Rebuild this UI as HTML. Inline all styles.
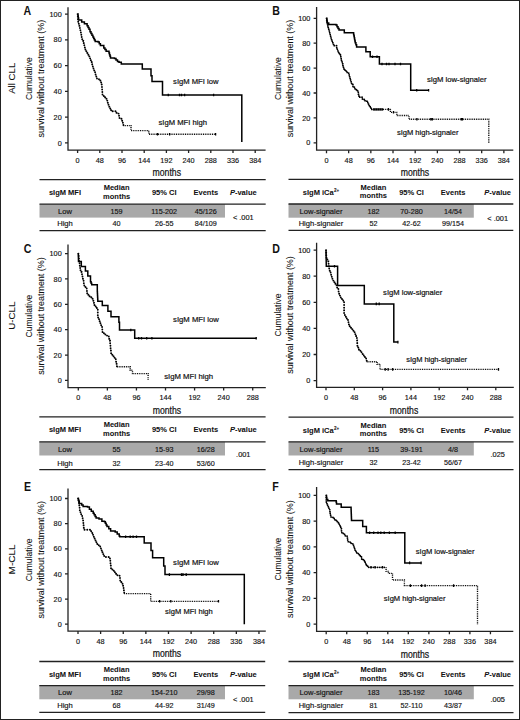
<!DOCTYPE html>
<html><head><meta charset="utf-8"><title>Kaplan-Meier curves</title><style>
html,body{margin:0;padding:0;background:#fff;}
body{width:520px;height:720px;overflow:hidden;position:relative;}
#frame{position:absolute;left:0;top:0;width:518px;height:718px;border:1px solid #222;}
svg{position:absolute;left:0;top:0;}
text{font-family:"Liberation Sans", sans-serif;fill:#111;}
.ax{fill:none;stroke:#222;stroke-width:1.3;}
.tl{fill:none;stroke:#222;stroke-width:1.3;}
.tk{font-size:7.4px;stroke:#111;stroke-width:0.15px;}
.mo{font-size:10px;stroke:#111;stroke-width:0.2px;}
.pl{font-size:12.2px;font-weight:bold;}
.yt{font-size:9.7px;stroke:#111;stroke-width:0.08px;}
.rl{font-size:9.6px;stroke:#111;stroke-width:0.08px;}
.cl{font-size:7.6px;stroke:#111;stroke-width:0.2px;}
.th{font-size:7.5px;font-weight:bold;stroke:#111;stroke-width:0.05px;}
.td{font-size:7.2px;stroke:#111;stroke-width:0.15px;}
.cs{fill:none;stroke:#000;stroke-width:1.5;}
.cdb{fill:none;stroke:#000;stroke-width:1.9;stroke-dasharray:0.1 2.6;stroke-linecap:round;}
.cd{fill:none;stroke:#000;stroke-width:1.35;stroke-dasharray:0.95 0.85;}
.cdb2{fill:none;stroke:#000;stroke-width:1.8;stroke-dasharray:0.1 2.1;stroke-linecap:round;}
.cz{fill:none;stroke:#000;stroke-width:1.3;}
</style></head>
<body><div id="frame"></div>
<svg width="520" height="720" viewBox="0 0 520 720">
<path d="M68 7.2V150.1H265.6" class="ax"/>
<text x="61.7" y="145.5" class="tk" text-anchor="end" textLength="4.05" lengthAdjust="spacingAndGlyphs">0</text>
<text x="61.7" y="119.74" class="tk" text-anchor="end" textLength="8.1" lengthAdjust="spacingAndGlyphs">20</text>
<text x="61.7" y="93.98" class="tk" text-anchor="end" textLength="8.1" lengthAdjust="spacingAndGlyphs">40</text>
<text x="61.7" y="68.22" class="tk" text-anchor="end" textLength="8.1" lengthAdjust="spacingAndGlyphs">60</text>
<text x="61.7" y="42.46" class="tk" text-anchor="end" textLength="8.1" lengthAdjust="spacingAndGlyphs">80</text>
<text x="61.7" y="16.7" class="tk" text-anchor="end" textLength="12.15" lengthAdjust="spacingAndGlyphs">100</text>
<text x="77.6" y="162.6" class="tk" text-anchor="middle" textLength="4.05" lengthAdjust="spacingAndGlyphs">0</text>
<text x="99.8" y="162.6" class="tk" text-anchor="middle" textLength="8.1" lengthAdjust="spacingAndGlyphs">48</text>
<text x="122" y="162.6" class="tk" text-anchor="middle" textLength="8.1" lengthAdjust="spacingAndGlyphs">96</text>
<text x="144.2" y="162.6" class="tk" text-anchor="middle" textLength="12.15" lengthAdjust="spacingAndGlyphs">144</text>
<text x="166.4" y="162.6" class="tk" text-anchor="middle" textLength="12.15" lengthAdjust="spacingAndGlyphs">192</text>
<text x="188.6" y="162.6" class="tk" text-anchor="middle" textLength="12.15" lengthAdjust="spacingAndGlyphs">240</text>
<text x="210.8" y="162.6" class="tk" text-anchor="middle" textLength="12.15" lengthAdjust="spacingAndGlyphs">288</text>
<text x="233" y="162.6" class="tk" text-anchor="middle" textLength="12.15" lengthAdjust="spacingAndGlyphs">336</text>
<text x="255.2" y="162.6" class="tk" text-anchor="middle" textLength="12.15" lengthAdjust="spacingAndGlyphs">384</text>
<path d="M65 142.9H68M65 117.14H68M65 91.38H68M65 65.62H68M65 39.86H68M65 14.1H68M77.6 150.1v3M99.8 150.1v3M122 150.1v3M144.2 150.1v3M166.4 150.1v3M188.6 150.1v3M210.8 150.1v3M233 150.1v3M255.2 150.1v3" class="ax"/>
<text x="166.8" y="176.3" class="mo" text-anchor="middle" textLength="28.5" lengthAdjust="spacingAndGlyphs">months</text>
<text transform="translate(23.6 15.4) scale(0.87 1)" class="pl">A</text>
<text transform="translate(31.9 78.65) rotate(-90)" class="yt" text-anchor="middle" textLength="42.8" lengthAdjust="spacingAndGlyphs">Cumulative</text>
<text transform="translate(44.3 78.65) rotate(-90)" class="yt" text-anchor="middle" textLength="117.5" lengthAdjust="spacingAndGlyphs">survival without treatment (%)</text>
<text transform="translate(15.4 78.25) rotate(-90)" class="rl" text-anchor="middle" textLength="31.2" lengthAdjust="spacingAndGlyphs">All CLL</text>
<text x="173.1" y="84.2" class="cl" textLength="45.4" lengthAdjust="spacingAndGlyphs">sIgM MFI low</text>
<text x="158.5" y="124.9" class="cl" textLength="48.4" lengthAdjust="spacingAndGlyphs">sIgM MFI high</text>
<rect x="39.5" y="204.2" width="185.5" height="13.4" fill="#a9a9a9"/>
<path d="M39.5 179.7H265.7M39.5 204.2H265.7M39.5 230.6H265.7" class="tl"/>
<text x="65" y="195" class="th" text-anchor="middle">sIgM MFI</text>
<text x="116.6" y="190" class="th" text-anchor="middle">Median</text>
<text x="116.6" y="198.8" class="th" text-anchor="middle">months</text>
<text x="164.2" y="195" class="th" text-anchor="middle">95% CI</text>
<text x="205.8" y="195" class="th" text-anchor="middle">Events</text>
<text x="243.3" y="195" class="th" text-anchor="middle"><tspan font-style="italic">P</tspan>-value</text>
<text x="65" y="213.7" class="td" text-anchor="middle" style="font-size:7.6px">Low</text>
<text x="116.6" y="213.7" class="td" text-anchor="middle">159</text>
<text x="164.2" y="213.7" class="td" text-anchor="middle">115-202</text>
<text x="205.8" y="213.7" class="td" text-anchor="middle">45/126</text>
<text x="65" y="226.4" class="td" text-anchor="middle" style="font-size:7.6px">High</text>
<text x="116.6" y="226.4" class="td" text-anchor="middle">40</text>
<text x="164.2" y="226.4" class="td" text-anchor="middle">26-55</text>
<text x="205.8" y="226.4" class="td" text-anchor="middle">84/109</text>
<text x="243.3" y="219.8" class="td" text-anchor="middle" style="font-size:7.4px">< .001</text>
<path d="M77.6 14.1 77.93 14.1 77.93 16.07 78.27 16.07 78.27 18.03 78.6 18.03 78.6 20 81.7 20 81.7 21.9 84.4 21.9 84.4 23.85 87.1 23.85 87.1 25.8 88.05 25.8 88.05 27.5 89 27.5 89 29.2 90 29.2 90 31.7 90.97 31.7 90.97 33.43 91.93 33.43 91.93 35.17 92.9 35.17 92.9 36.9 93.67 36.9 93.67 38.43 94.43 38.43 94.43 39.97 95.2 39.97 95.2 41.5 98.1 41.5 98.1 42.1 99.25 42.1 99.25 43.85 100.4 43.85 100.4 45.6 103.8 45.6 103.8 47.9 104.95 47.9 104.95 49.6 106.1 49.6 106.1 51.3 109 51.3 109 53.1 109.5 53.1 109.5 54.7 110 54.7 110 56.3 110.5 56.3 110.5 57.9 114.5 57.9 114.5 58.4 116 58.4 116 59.95 117.5 59.95 117.5 61.5 119 61.5 119 62.3 121.3 62.3 121.3 64 142.3 64 142.3 69.1 151 69.1 151 75.8 152 75.8 152 81.5 162.5 81.5 162.5 95 241.8 95 241.8 142.1" class="cs"/>
<path d="M168.3 93.7v2.6M179.5 93.7v2.6M181.5 93.7v2.6M184.6 93.7v2.6M213.6 93.7v2.6" class="cz"/>
<path d="M77.6 14.1 77.72 14.1 77.72 15.88 77.84 15.88 77.84 17.66 77.96 17.66 77.96 19.44 78.08 19.44 78.08 21.22 78.2 21.22 78.2 23 78.8 23 78.8 24.95 79.4 24.95 79.4 26.9 79.9 26.9 79.9 28.97 80.4 28.97 80.4 31.03 80.9 31.03 80.9 33.1 81.3 33.1 81.3 35.13 81.7 35.13 81.7 37.17 82.1 37.17 82.1 39.2 82.65 39.2 82.65 40.93 83.2 40.93 83.2 42.67 83.75 42.67 83.75 44.4 84.3 44.4 84.3 46.13 84.85 46.13 84.85 47.87 85.4 47.87 85.4 49.6 86.25 49.6 86.25 51.3 87.1 51.3 87.1 53 87.95 53 87.95 54.7 88.8 54.7 88.8 56.4 89.8 56.4 89.8 58.35 90.8 58.35 90.8 60.3 91.27 60.3 91.27 62.07 91.73 62.07 91.73 63.83 92.2 63.83 92.2 65.6 92.83 65.6 92.83 67.2 93.47 67.2 93.47 68.8 94.1 68.8 94.1 70.4 94.6 70.4 94.6 72 95.1 72 95.1 73.6 95.6 73.6 95.6 75.2 96.3 75.2 96.3 76.9 97 76.9 97 78.6 98.95 78.6 98.95 80.5 100.9 80.5 100.9 82.4 101.35 82.4 101.35 84.55 101.8 84.55 101.8 86.7 101.97 86.7 101.97 88.72 102.15 88.72 102.15 90.75 102.33 90.75 102.33 92.78 102.5 92.78 102.5 94.8 103.8 94.8 103.8 96.75 105.1 96.75 105.1 98.7 107 98.7 107 100.6 107.75 100.6 107.75 102.75 108.5 102.75 108.5 104.9 109.3 104.9 109.3 106.67 110.1 106.67 110.1 108.43 110.9 108.43 110.9 110.2 112.3 110.2 112.3 111.3 115.2 111.3 116.6 111.3 116.6 113.6 118.6 113.6 118.6 115 119.05 115 119.05 116.9 119.5 116.9 119.5 118.8 121.9 118.8 121.9 120.8 122.4 120.8 122.4 122.4 122.9 122.4 122.9 124 123.4 124 123.4 125.6" class="cdb"/>
<path d="M123.4 125.6 131 125.6 131 130.6 148.8 130.6 148.8 134.2 215.6 134.2" class="cd"/>
<path d="M157.5 132.9v2.6M169.6 132.9v2.6M215.6 132.9v2.6" class="cz"/>
<path d="M316.6 6.9V150.2H513.3" class="ax"/>
<text x="310.3" y="145.4" class="tk" text-anchor="end" textLength="4.05" lengthAdjust="spacingAndGlyphs">0</text>
<text x="310.3" y="120.5" class="tk" text-anchor="end" textLength="8.1" lengthAdjust="spacingAndGlyphs">20</text>
<text x="310.3" y="95.6" class="tk" text-anchor="end" textLength="8.1" lengthAdjust="spacingAndGlyphs">40</text>
<text x="310.3" y="70.7" class="tk" text-anchor="end" textLength="8.1" lengthAdjust="spacingAndGlyphs">60</text>
<text x="310.3" y="45.8" class="tk" text-anchor="end" textLength="8.1" lengthAdjust="spacingAndGlyphs">80</text>
<text x="310.3" y="20.9" class="tk" text-anchor="end" textLength="12.15" lengthAdjust="spacingAndGlyphs">100</text>
<text x="326.5" y="162.7" class="tk" text-anchor="middle" textLength="4.05" lengthAdjust="spacingAndGlyphs">0</text>
<text x="348.67" y="162.7" class="tk" text-anchor="middle" textLength="8.1" lengthAdjust="spacingAndGlyphs">48</text>
<text x="370.84" y="162.7" class="tk" text-anchor="middle" textLength="8.1" lengthAdjust="spacingAndGlyphs">96</text>
<text x="393.01" y="162.7" class="tk" text-anchor="middle" textLength="12.15" lengthAdjust="spacingAndGlyphs">144</text>
<text x="415.18" y="162.7" class="tk" text-anchor="middle" textLength="12.15" lengthAdjust="spacingAndGlyphs">192</text>
<text x="437.35" y="162.7" class="tk" text-anchor="middle" textLength="12.15" lengthAdjust="spacingAndGlyphs">240</text>
<text x="459.52" y="162.7" class="tk" text-anchor="middle" textLength="12.15" lengthAdjust="spacingAndGlyphs">288</text>
<text x="481.69" y="162.7" class="tk" text-anchor="middle" textLength="12.15" lengthAdjust="spacingAndGlyphs">336</text>
<text x="503.86" y="162.7" class="tk" text-anchor="middle" textLength="12.15" lengthAdjust="spacingAndGlyphs">384</text>
<path d="M313.6 142.8H316.6M313.6 117.9H316.6M313.6 93H316.6M313.6 68.1H316.6M313.6 43.2H316.6M313.6 18.3H316.6M326.5 150.2v3M348.67 150.2v3M370.84 150.2v3M393.01 150.2v3M415.18 150.2v3M437.35 150.2v3M459.52 150.2v3M481.69 150.2v3M503.86 150.2v3" class="ax"/>
<text x="414.95" y="176.4" class="mo" text-anchor="middle" textLength="28.5" lengthAdjust="spacingAndGlyphs">months</text>
<text transform="translate(272.2 14.9) scale(0.87 1)" class="pl">B</text>
<text transform="translate(280.8 78.55) rotate(-90)" class="yt" text-anchor="middle" textLength="42.8" lengthAdjust="spacingAndGlyphs">Cumulative</text>
<text transform="translate(293.2 78.55) rotate(-90)" class="yt" text-anchor="middle" textLength="117.5" lengthAdjust="spacingAndGlyphs">survival without treatment (%)</text>
<text x="426.9" y="81.6" class="cl" textLength="59.6" lengthAdjust="spacingAndGlyphs">sIgM low-signaler</text>
<text x="396.9" y="134.6" class="cl" textLength="61.6" lengthAdjust="spacingAndGlyphs">sIgM high-signaler</text>
<rect x="288.5" y="204" width="185.3" height="13.7" fill="#a9a9a9"/>
<path d="M288.5 179.3H513.3M288.5 204H513.3M288.5 230.4H513.3" class="tl"/>
<text x="321" y="194.6" class="th" text-anchor="middle">sIgM iCa<tspan dy="-2.4" font-size="4.6" dx="0.3">2+</tspan></text>
<text x="373.4" y="189.6" class="th" text-anchor="middle">Median</text>
<text x="373.4" y="198.4" class="th" text-anchor="middle">months</text>
<text x="411.5" y="194.6" class="th" text-anchor="middle">95% CI</text>
<text x="453.1" y="194.6" class="th" text-anchor="middle">Events</text>
<text x="497.7" y="194.6" class="th" text-anchor="middle"><tspan font-style="italic">P</tspan>-value</text>
<text x="321" y="213.8" class="td" text-anchor="middle" style="font-size:7.6px">Low-signaler</text>
<text x="373.4" y="213.8" class="td" text-anchor="middle">182</text>
<text x="411.5" y="213.8" class="td" text-anchor="middle">70-280</text>
<text x="453.1" y="213.8" class="td" text-anchor="middle">14/54</text>
<text x="321" y="226.2" class="td" text-anchor="middle" style="font-size:7.6px">High-signaler</text>
<text x="373.4" y="226.2" class="td" text-anchor="middle">52</text>
<text x="411.5" y="226.2" class="td" text-anchor="middle">42-62</text>
<text x="453.1" y="226.2" class="td" text-anchor="middle">99/154</text>
<text x="497.7" y="220.8" class="td" text-anchor="middle" style="font-size:7.4px">< .001</text>
<path d="M326.5 18.3 326.77 18.3 326.77 19.9 327.03 19.9 327.03 21.5 327.3 21.5 327.3 23.1 328.7 23.1 328.7 24.5 335.5 24.5 336 24.5 336 25 337 25 337 26.7 338 26.7 338 28.4 339 28.4 339 30.1 344.3 30.1 344.3 32.7 353.3 32.7 353.62 32.7 353.62 34.38 353.93 34.38 353.93 36.07 354.25 36.07 354.25 37.75 354.57 37.75 354.57 39.43 354.88 39.43 354.88 41.12 355.2 41.12 355.2 42.8 355.9 42.8 355.9 44.85 356.6 44.85 356.6 46.9 365.9 46.9 365.9 51.7 370.2 51.7 370.2 56.8 379.4 56.8 379.4 64 410.7 64 410.7 90.2 428.6 90.2" class="cs"/>
<path d="M372.5 55.5v2.6M377 55.5v2.6M382 62.7v2.6M386.5 62.7v2.6M389 62.7v2.6M395 62.7v2.6M400.5 62.7v2.6M416.7 88.9v2.6M428.6 88.9v2.6" class="cz"/>
<path d="M326.5 18.3 326.82 18.3 326.82 20.23 327.15 20.23 327.15 22.15 327.48 22.15 327.48 24.07 327.8 24.07 327.8 26 328.18 26 328.18 27.62 328.56 27.62 328.56 29.24 328.94 29.24 328.94 30.86 329.32 30.86 329.32 32.48 329.7 32.48 329.7 34.1 330.18 34.1 330.18 35.77 330.65 35.77 330.65 37.45 331.12 37.45 331.12 39.12 331.6 39.12 331.6 40.8 332.23 40.8 332.23 42.43 332.87 42.43 332.87 44.07 333.5 44.07 333.5 45.7 336.7 45.7 336.7 47.9 337.33 47.9 337.33 49.5 337.97 49.5 337.97 51.1 338.6 51.1 338.6 52.7 339.55 52.7 339.55 54.15 340.5 54.15 340.5 55.6 340.83 55.6 340.83 57.67 341.17 57.67 341.17 59.73 341.5 59.73 341.5 61.8 342.2 61.8 342.2 63.75 342.9 63.75 342.9 65.7 343.4 65.7 343.4 67.35 343.9 67.35 343.9 69 345.1 69 345.1 70.7 346.3 70.7 346.3 72.4 348.7 72.4 348.7 74.3 349.17 74.3 349.17 76.07 349.63 76.07 349.63 77.83 350.1 77.83 350.1 79.6 350.6 79.6 350.6 81.2 351.1 81.2 351.1 82.8 351.6 82.8 351.6 84.4 353 84.4 353 86.6 354.4 86.6 354.4 88.8 356.35 88.8 356.35 90.7 358.3 90.7 358.3 92.6 358.5 92.6 358.5 94.13 358.7 94.13 358.7 95.67 358.9 95.67 358.9 97.2 362.4 97.2 362.4 99.5 365.1 99.5 365.1 101.15 367.8 101.15 367.8 102.8 368.5 102.8 368.5 104.75 369.2 104.75 369.2 106.7 370.4 106.7 370.4 108.05 371.6 108.05 371.6 109.4 383.1 109.4" class="cdb2"/>
<path d="M374 108.1v2.6M376 108.1v2.6M378 108.1v2.6M380 108.1v2.6M382 108.1v2.6" class="cz"/>
<path d="M383.1 109.4 390.4 109.4 390.4 112.3 396.8 112.3 396.8 115.5 409 115.5 409 119.2 488.8 119.2 488.8 143" class="cd"/>
<path d="M388.4 108.1v2.6M393.5 111v2.6M416.9 117.9v2.6M430.8 117.9v2.6M432.3 117.9v2.6M461.2 117.9v2.6M462.5 117.9v2.6" class="cz"/>
<path d="M68 244.6V387.6H265.8" class="ax"/>
<text x="61.7" y="383" class="tk" text-anchor="end" textLength="4.05" lengthAdjust="spacingAndGlyphs">0</text>
<text x="61.7" y="357.64" class="tk" text-anchor="end" textLength="8.1" lengthAdjust="spacingAndGlyphs">20</text>
<text x="61.7" y="332.28" class="tk" text-anchor="end" textLength="8.1" lengthAdjust="spacingAndGlyphs">40</text>
<text x="61.7" y="306.92" class="tk" text-anchor="end" textLength="8.1" lengthAdjust="spacingAndGlyphs">60</text>
<text x="61.7" y="281.56" class="tk" text-anchor="end" textLength="8.1" lengthAdjust="spacingAndGlyphs">80</text>
<text x="61.7" y="256.2" class="tk" text-anchor="end" textLength="12.15" lengthAdjust="spacingAndGlyphs">100</text>
<text x="78.3" y="400.1" class="tk" text-anchor="middle" textLength="4.05" lengthAdjust="spacingAndGlyphs">0</text>
<text x="107.37" y="400.1" class="tk" text-anchor="middle" textLength="8.1" lengthAdjust="spacingAndGlyphs">48</text>
<text x="136.44" y="400.1" class="tk" text-anchor="middle" textLength="8.1" lengthAdjust="spacingAndGlyphs">96</text>
<text x="165.51" y="400.1" class="tk" text-anchor="middle" textLength="12.15" lengthAdjust="spacingAndGlyphs">144</text>
<text x="194.58" y="400.1" class="tk" text-anchor="middle" textLength="12.15" lengthAdjust="spacingAndGlyphs">192</text>
<text x="223.65" y="400.1" class="tk" text-anchor="middle" textLength="12.15" lengthAdjust="spacingAndGlyphs">240</text>
<text x="252.72" y="400.1" class="tk" text-anchor="middle" textLength="12.15" lengthAdjust="spacingAndGlyphs">288</text>
<path d="M65 380.4H68M65 355.04H68M65 329.68H68M65 304.32H68M65 278.96H68M65 253.6H68M78.3 387.6v3M107.37 387.6v3M136.44 387.6v3M165.51 387.6v3M194.58 387.6v3M223.65 387.6v3M252.72 387.6v3" class="ax"/>
<text x="166.9" y="413.8" class="mo" text-anchor="middle" textLength="28.5" lengthAdjust="spacingAndGlyphs">months</text>
<text transform="translate(23.7 253.2) scale(0.87 1)" class="pl">C</text>
<text transform="translate(31.9 316.1) rotate(-90)" class="yt" text-anchor="middle" textLength="42.8" lengthAdjust="spacingAndGlyphs">Cumulative</text>
<text transform="translate(44.3 316.1) rotate(-90)" class="yt" text-anchor="middle" textLength="117.5" lengthAdjust="spacingAndGlyphs">survival without treatment (%)</text>
<text transform="translate(15.4 315.7) rotate(-90)" class="rl" text-anchor="middle" textLength="28.2" lengthAdjust="spacingAndGlyphs">U-CLL</text>
<text x="173.1" y="321.8" class="cl" textLength="45.7" lengthAdjust="spacingAndGlyphs">sIgM MFI low</text>
<text x="164.2" y="378.8" class="cl" textLength="48.9" lengthAdjust="spacingAndGlyphs">sIgM MFI high</text>
<rect x="39.3" y="441.8" width="185.7" height="13.7" fill="#a9a9a9"/>
<path d="M39.3 416.9H265.6M39.3 441.8H265.6M39.3 469.7H265.6" class="tl"/>
<text x="65" y="432.2" class="th" text-anchor="middle">sIgM MFI</text>
<text x="116.6" y="427.2" class="th" text-anchor="middle">Median</text>
<text x="116.6" y="436" class="th" text-anchor="middle">months</text>
<text x="164.2" y="432.2" class="th" text-anchor="middle">95% CI</text>
<text x="205.8" y="432.2" class="th" text-anchor="middle">Events</text>
<text x="243.3" y="432.2" class="th" text-anchor="middle"><tspan font-style="italic">P</tspan>-value</text>
<text x="65" y="451.6" class="td" text-anchor="middle" style="font-size:7.6px">Low</text>
<text x="116.6" y="451.6" class="td" text-anchor="middle">55</text>
<text x="164.2" y="451.6" class="td" text-anchor="middle">15-93</text>
<text x="205.8" y="451.6" class="td" text-anchor="middle">16/28</text>
<text x="65" y="465.5" class="td" text-anchor="middle" style="font-size:7.6px">High</text>
<text x="116.6" y="465.5" class="td" text-anchor="middle">32</text>
<text x="164.2" y="465.5" class="td" text-anchor="middle">23-40</text>
<text x="205.8" y="465.5" class="td" text-anchor="middle">53/60</text>
<text x="243.3" y="457" class="td" text-anchor="middle" style="font-size:7.4px">.001</text>
<path d="M78.3 253.6 78.5 261.5 81.3 261.5 81.3 262.3 81.3 266.5 85.4 266.5 85.4 271.1 87.8 271.1 87.8 276.1 90.5 276.1 90.5 281.8 91.1 281.8 91.1 283.3 91.7 283.3 91.7 284.8 97.3 284.8 97.3 291.5 97.4 291.5 97.4 293.44 97.5 293.44 97.5 295.38 97.6 295.38 97.6 297.32 97.7 297.32 97.7 299.26 97.8 299.26 97.8 301.2 102.3 301.2 102.3 305.5 107.9 305.5 107.9 311.3 111 311.3 111 316.7 118.9 316.7 118.9 322.3 119.5 322.3 119.5 330 134.7 330 134.7 338.2 256.2 338.2" class="cs"/>
<path d="M130.8 328.7v2.6M138.7 336.9v2.6M141.5 336.9v2.6M146.7 336.9v2.6M151.9 336.9v2.6M256.2 336.9v2.6" class="cz"/>
<path d="M78.3 253.6 78.51 253.6 78.51 255.44 78.73 255.44 78.73 257.29 78.94 257.29 78.94 259.13 79.16 259.13 79.16 260.97 79.37 260.97 79.37 262.81 79.59 262.81 79.59 264.66 79.8 264.66 79.8 266.5 80.15 266.5 80.15 268.4 80.5 268.4 80.5 270.3 81 270.3 81 272.02 81.5 272.02 81.5 273.75 82 273.75 82 275.48 82.5 275.48 82.5 277.2 82.87 277.2 82.87 278.73 83.23 278.73 83.23 280.27 83.6 280.27 83.6 281.8 83.83 281.8 83.83 283.43 84.07 283.43 84.07 285.07 84.3 285.07 84.3 286.7 85.5 286.7 85.5 288.15 86.7 288.15 86.7 289.6 86.95 289.6 86.95 291.75 87.2 291.75 87.2 293.9 88.4 293.9 88.4 295.35 89.6 295.35 89.6 296.8 91.3 296.8 91.3 298.75 93 298.75 93 300.7 93.45 300.7 93.45 302.85 93.9 302.85 93.9 305 94.9 305 94.9 306.45 95.9 306.45 95.9 307.9 96.85 307.9 96.85 309.35 97.8 309.35 97.8 310.8 97.8 317.5 98.43 317.5 98.43 319.1 99.07 319.1 99.07 320.7 99.7 320.7 99.7 322.3 100.43 322.3 100.43 323.83 101.17 323.83 101.17 325.37 101.9 325.37 101.9 326.9 102.1 326.9 102.1 328.63 102.3 328.63 102.3 330.37 102.5 330.37 102.5 332.1 103.95 332.1 103.95 333.85 105.4 333.85 105.4 335.6 108.8 335.6 108.8 337.3 109.2 337.3 109.2 339.03 109.6 339.03 109.6 340.77 110 340.77 110 342.5 110.15 342.5 110.15 344.07 110.3 344.07 110.3 345.65 110.45 345.65 110.45 347.23 110.6 347.23 110.6 348.8 110.77 348.8 110.77 350.33 110.93 350.33 110.93 351.87 111.1 351.87 111.1 353.4 112.3 353.4 112.3 355.15 113.5 355.15 113.5 356.9 114.65 356.9 114.65 358.65 115.8 358.65 115.8 360.4 116.08 360.4 116.08 361.97 116.35 361.97 116.35 363.55 116.62 363.55 116.62 365.12 116.9 365.12 116.9 366.7" class="cdb"/>
<path d="M116.9 366.7 130.2 366.7 130.2 370.2 132.5 370.2 132.5 373.6 148.1 373.6 148.1 380.2" class="cd"/>
<path d="M316.6 242.7V387.3H513.8" class="ax"/>
<text x="310.3" y="383.2" class="tk" text-anchor="end" textLength="4.05" lengthAdjust="spacingAndGlyphs">0</text>
<text x="310.3" y="357.1" class="tk" text-anchor="end" textLength="8.1" lengthAdjust="spacingAndGlyphs">20</text>
<text x="310.3" y="331" class="tk" text-anchor="end" textLength="8.1" lengthAdjust="spacingAndGlyphs">40</text>
<text x="310.3" y="304.9" class="tk" text-anchor="end" textLength="8.1" lengthAdjust="spacingAndGlyphs">60</text>
<text x="310.3" y="278.8" class="tk" text-anchor="end" textLength="8.1" lengthAdjust="spacingAndGlyphs">80</text>
<text x="310.3" y="252.7" class="tk" text-anchor="end" textLength="12.15" lengthAdjust="spacingAndGlyphs">100</text>
<text x="326" y="399.8" class="tk" text-anchor="middle" textLength="4.05" lengthAdjust="spacingAndGlyphs">0</text>
<text x="354.3" y="399.8" class="tk" text-anchor="middle" textLength="8.1" lengthAdjust="spacingAndGlyphs">48</text>
<text x="382.6" y="399.8" class="tk" text-anchor="middle" textLength="8.1" lengthAdjust="spacingAndGlyphs">96</text>
<text x="410.9" y="399.8" class="tk" text-anchor="middle" textLength="12.15" lengthAdjust="spacingAndGlyphs">144</text>
<text x="439.2" y="399.8" class="tk" text-anchor="middle" textLength="12.15" lengthAdjust="spacingAndGlyphs">192</text>
<text x="467.5" y="399.8" class="tk" text-anchor="middle" textLength="12.15" lengthAdjust="spacingAndGlyphs">240</text>
<text x="495.8" y="399.8" class="tk" text-anchor="middle" textLength="12.15" lengthAdjust="spacingAndGlyphs">288</text>
<path d="M313.6 380.6H316.6M313.6 354.5H316.6M313.6 328.4H316.6M313.6 302.3H316.6M313.6 276.2H316.6M313.6 250.1H316.6M326 387.3v3M354.3 387.3v3M382.6 387.3v3M410.9 387.3v3M439.2 387.3v3M467.5 387.3v3M495.8 387.3v3" class="ax"/>
<text x="404" y="413.5" class="mo" text-anchor="middle" textLength="28.5" lengthAdjust="spacingAndGlyphs">months</text>
<text transform="translate(272.2 252.9) scale(0.87 1)" class="pl">D</text>
<text transform="translate(280.8 315) rotate(-90)" class="yt" text-anchor="middle" textLength="42.8" lengthAdjust="spacingAndGlyphs">Cumulative</text>
<text transform="translate(293.2 315) rotate(-90)" class="yt" text-anchor="middle" textLength="117.5" lengthAdjust="spacingAndGlyphs">survival without treatment (%)</text>
<text x="383.1" y="295.4" class="cl" textLength="59.2" lengthAdjust="spacingAndGlyphs">sIgM low-signaler</text>
<text x="406.2" y="361.9" class="cl" textLength="60.9" lengthAdjust="spacingAndGlyphs">sIgM high-signaler</text>
<rect x="288.5" y="441.8" width="185.3" height="13.7" fill="#a9a9a9"/>
<path d="M288.5 417.2H513.5M288.5 441.8H513.5M288.5 469.6H513.5" class="tl"/>
<text x="321" y="432.5" class="th" text-anchor="middle">sIgM iCa<tspan dy="-2.4" font-size="4.6" dx="0.3">2+</tspan></text>
<text x="373.4" y="427.5" class="th" text-anchor="middle">Median</text>
<text x="373.4" y="436.3" class="th" text-anchor="middle">months</text>
<text x="411.5" y="432.5" class="th" text-anchor="middle">95% CI</text>
<text x="453.1" y="432.5" class="th" text-anchor="middle">Events</text>
<text x="497.7" y="432.5" class="th" text-anchor="middle"><tspan font-style="italic">P</tspan>-value</text>
<text x="321" y="451.6" class="td" text-anchor="middle" style="font-size:7.6px">Low-signaler</text>
<text x="373.4" y="451.6" class="td" text-anchor="middle">115</text>
<text x="411.5" y="451.6" class="td" text-anchor="middle">39-191</text>
<text x="453.1" y="451.6" class="td" text-anchor="middle">4/8</text>
<text x="321" y="465.4" class="td" text-anchor="middle" style="font-size:7.6px">High-signaler</text>
<text x="373.4" y="465.4" class="td" text-anchor="middle">32</text>
<text x="411.5" y="465.4" class="td" text-anchor="middle">23-42</text>
<text x="453.1" y="465.4" class="td" text-anchor="middle">56/67</text>
<text x="497.7" y="456.8" class="td" text-anchor="middle" style="font-size:7.4px">.025</text>
<path d="M326 250.1 326.3 266.2 337.6 266.2 337.6 285.5 364.3 285.5 364.3 303.9 393.8 303.9 393.8 342.1 397.9 342.1" class="cs"/>
<path d="M334.5 264.9v2.6M376.3 302.6v2.6M379.2 302.6v2.6M397.9 340.8v2.6" class="cz"/>
<path d="M326 250.1 326.1 250.1 326.1 251.96 326.2 251.96 326.2 253.82 326.3 253.82 326.3 255.68 326.4 255.68 326.4 257.54 326.5 257.54 326.5 259.4 327.4 259.4 327.4 261.35 328.3 261.35 328.3 263.3 328.6 263.3 328.6 265.2 328.9 265.2 328.9 267.1 329.2 267.1 329.2 269 329.68 269 329.68 270.7 330.15 270.7 330.15 272.4 330.62 272.4 330.62 274.1 331.1 274.1 331.1 275.8 331.77 275.8 331.77 277.4 332.43 277.4 332.43 279 333.1 279 333.1 280.6 333.9 280.6 333.9 282.2 334.7 282.2 334.7 283.8 335.5 283.8 335.5 285.4 336.95 285.4 336.95 287.6 338.4 287.6 338.4 289.8 338.6 289.8 338.6 291.75 338.8 291.75 338.8 293.7 339.8 293.7 339.8 295.6 340.8 295.6 340.8 297.5 342 297.5 342 299.65 343.2 299.65 343.2 301.8 344.1 301.8 344.1 304.2 344.1 313.8 344.85 313.8 344.85 315.25 345.6 315.25 345.6 316.7 346.8 316.7 346.8 318.65 348 318.65 348 320.6 348.47 320.6 348.47 322.5 348.93 322.5 348.93 324.4 349.4 324.4 349.4 326.3 350.85 326.3 350.85 327.75 352.3 327.75 352.3 329.2 353.45 329.2 353.45 331.45 354.6 331.45 354.6 333.7 355.37 333.7 355.37 335.4 356.13 335.4 356.13 337.1 356.9 337.1 356.9 338.8 357.02 338.8 357.02 340.54 357.14 340.54 357.14 342.28 357.26 342.28 357.26 344.02 357.38 344.02 357.38 345.76 357.5 345.76 357.5 347.5 358.95 347.5 358.95 349.5 360.4 349.5 360.4 351.5 361.53 351.5 361.53 353.03 362.67 353.03 362.67 354.57 363.8 354.57 363.8 356.1 364.95 356.1 364.95 357.55 366.1 357.55 366.1 359 366.7 359 366.7 361.7" class="cdb"/>
<path d="M366.7 361.7 374.8 361.7 377.1 361.7 377.1 364.2 380 364.2 380 366.5 380 369.4 498.5 369.4" class="cd"/>
<path d="M385.2 368.1v2.6M388.1 368.1v2.6M392.7 368.1v2.6M498.5 368.1v2.6" class="cz"/>
<path d="M68 488.5V631.1H265.8" class="ax"/>
<text x="61.7" y="626.8" class="tk" text-anchor="end" textLength="4.05" lengthAdjust="spacingAndGlyphs">0</text>
<text x="61.7" y="601.66" class="tk" text-anchor="end" textLength="8.1" lengthAdjust="spacingAndGlyphs">20</text>
<text x="61.7" y="576.52" class="tk" text-anchor="end" textLength="8.1" lengthAdjust="spacingAndGlyphs">40</text>
<text x="61.7" y="551.38" class="tk" text-anchor="end" textLength="8.1" lengthAdjust="spacingAndGlyphs">60</text>
<text x="61.7" y="526.24" class="tk" text-anchor="end" textLength="8.1" lengthAdjust="spacingAndGlyphs">80</text>
<text x="61.7" y="501.1" class="tk" text-anchor="end" textLength="12.15" lengthAdjust="spacingAndGlyphs">100</text>
<text x="78" y="643.6" class="tk" text-anchor="middle" textLength="4.05" lengthAdjust="spacingAndGlyphs">0</text>
<text x="100.62" y="643.6" class="tk" text-anchor="middle" textLength="8.1" lengthAdjust="spacingAndGlyphs">48</text>
<text x="123.24" y="643.6" class="tk" text-anchor="middle" textLength="8.1" lengthAdjust="spacingAndGlyphs">96</text>
<text x="145.86" y="643.6" class="tk" text-anchor="middle" textLength="12.15" lengthAdjust="spacingAndGlyphs">144</text>
<text x="168.48" y="643.6" class="tk" text-anchor="middle" textLength="12.15" lengthAdjust="spacingAndGlyphs">192</text>
<text x="191.1" y="643.6" class="tk" text-anchor="middle" textLength="12.15" lengthAdjust="spacingAndGlyphs">240</text>
<text x="213.72" y="643.6" class="tk" text-anchor="middle" textLength="12.15" lengthAdjust="spacingAndGlyphs">288</text>
<text x="236.34" y="643.6" class="tk" text-anchor="middle" textLength="12.15" lengthAdjust="spacingAndGlyphs">336</text>
<text x="258.96" y="643.6" class="tk" text-anchor="middle" textLength="12.15" lengthAdjust="spacingAndGlyphs">384</text>
<path d="M65 624.2H68M65 599.06H68M65 573.92H68M65 548.78H68M65 523.64H68M65 498.5H68M78 631.1v3M100.62 631.1v3M123.24 631.1v3M145.86 631.1v3M168.48 631.1v3M191.1 631.1v3M213.72 631.1v3M236.34 631.1v3M258.96 631.1v3" class="ax"/>
<text x="166.9" y="657.3" class="mo" text-anchor="middle" textLength="28.5" lengthAdjust="spacingAndGlyphs">months</text>
<text transform="translate(24 490.9) scale(0.87 1)" class="pl">E</text>
<text transform="translate(31.9 559.8) rotate(-90)" class="yt" text-anchor="middle" textLength="42.8" lengthAdjust="spacingAndGlyphs">Cumulative</text>
<text transform="translate(44.3 559.8) rotate(-90)" class="yt" text-anchor="middle" textLength="117.5" lengthAdjust="spacingAndGlyphs">survival without treatment (%)</text>
<text transform="translate(15.4 559.4) rotate(-90)" class="rl" text-anchor="middle" textLength="30.2" lengthAdjust="spacingAndGlyphs">M-CLL</text>
<text x="173.1" y="565.4" class="cl" textLength="45.7" lengthAdjust="spacingAndGlyphs">sIgM MFI low</text>
<text x="165" y="614" class="cl" textLength="47.7" lengthAdjust="spacingAndGlyphs">sIgM MFI high</text>
<rect x="39.3" y="685.6" width="185.7" height="13.7" fill="#a9a9a9"/>
<path d="M39.3 661.5H265.2M39.3 685.6H265.2M39.3 712.4H265.2" class="tl"/>
<text x="65" y="676.8" class="th" text-anchor="middle">sIgM MFI</text>
<text x="116.6" y="671.8" class="th" text-anchor="middle">Median</text>
<text x="116.6" y="680.6" class="th" text-anchor="middle">months</text>
<text x="164.2" y="676.8" class="th" text-anchor="middle">95% CI</text>
<text x="205.8" y="676.8" class="th" text-anchor="middle">Events</text>
<text x="243.3" y="676.8" class="th" text-anchor="middle"><tspan font-style="italic">P</tspan>-value</text>
<text x="65" y="695.4" class="td" text-anchor="middle" style="font-size:7.6px">Low</text>
<text x="116.6" y="695.4" class="td" text-anchor="middle">182</text>
<text x="164.2" y="695.4" class="td" text-anchor="middle">154-210</text>
<text x="205.8" y="695.4" class="td" text-anchor="middle">29/98</text>
<text x="65" y="708.2" class="td" text-anchor="middle" style="font-size:7.6px">High</text>
<text x="116.6" y="708.2" class="td" text-anchor="middle">68</text>
<text x="164.2" y="708.2" class="td" text-anchor="middle">44-92</text>
<text x="205.8" y="708.2" class="td" text-anchor="middle">31/49</text>
<text x="243.3" y="701.6" class="td" text-anchor="middle" style="font-size:7.4px">< .001</text>
<path d="M78 498.5 78.43 498.5 78.43 500.17 78.87 500.17 78.87 501.83 79.3 501.83 79.3 503.5 81.7 503.5 81.7 505 83.1 505 83.1 506.4 87.5 506.4 87.5 506.9 89.4 506.9 89.4 509.3 91.3 509.3 91.3 511.25 93.2 511.25 93.2 513.2 94.17 513.2 94.17 514.8 95.13 514.8 95.13 516.4 96.1 516.4 96.1 518 99 518 99 518.9 101.9 518.9 101.9 521.3 104.5 521.3 104.5 521.8 105.33 521.8 105.33 523.37 106.17 523.37 106.17 524.93 107 524.93 107 526.5 108.8 526.5 108.8 528.75 110.6 528.75 110.6 531 115.2 531 115.2 532 117.2 532 117.2 534.05 119.2 534.05 119.2 536.1 119.8 536.1 119.8 536.8 144.2 536.8 144.2 542.9 151 542.9 151 550.6 152.6 550.6 152.6 557.8 163.7 557.8 163.7 566 165 566 165 574.6 244.3 574.6 244.3 624.2" class="cs"/>
<path d="M125.6 535.5v2.6M130.2 535.5v2.6M133.1 535.5v2.6M136.5 535.5v2.6M169.4 573.3v2.6M181.5 573.3v2.6M183 573.3v2.6M186.2 573.3v2.6" class="cz"/>
<path d="M78 498.5 78.33 498.5 78.33 500.25 78.65 500.25 78.65 502 78.97 502 78.97 503.75 79.3 503.75 79.3 505.5 79.47 505.5 79.47 507.4 79.63 507.4 79.63 509.3 79.8 509.3 79.8 511.2 80.5 511.2 80.5 513.4 81.2 513.4 81.2 515.6 82.2 515.6 82.2 518 82.65 518 82.65 519.9 83.1 519.9 83.1 521.8 83.35 521.8 83.35 523.95 83.6 523.95 83.6 526.1 83.8 526.1 83.8 527.95 84 527.95 84 529.8 90.4 529.8 90.95 529.8 90.95 531.25 91.5 531.25 91.5 532.7 92.27 532.7 92.27 534.23 93.03 534.23 93.03 535.77 93.8 535.77 93.8 537.3 94.67 537.3 94.67 539.02 95.55 539.02 95.55 540.75 96.42 540.75 96.42 542.48 97.3 542.48 97.3 544.2 98.75 544.2 98.75 545.95 100.2 545.95 100.2 547.7 100.97 547.7 100.97 549.6 101.73 549.6 101.73 551.5 102.5 551.5 102.5 553.4 103.35 553.4 103.35 555.2 104.2 555.2 104.2 557 109.8 557 109.97 557 109.97 558.69 110.14 558.69 110.14 560.37 110.31 560.37 110.31 562.06 110.49 562.06 110.49 563.74 110.66 563.74 110.66 565.43 110.83 565.43 110.83 567.11 111 567.11 111 568.8 112.4 568.8 112.4 570.25 113.8 570.25 113.8 571.7 114.95 571.7 114.95 573.45 116.1 573.45 116.1 575.2 119.6 575.2 119.6 576.3 119.8 576.3 119.8 577.87 120 577.87 120 579.43 120.2 579.43 120.2 581 121.35 581 121.35 582.4 122.5 582.4 122.5 583.8 122.87 583.8 122.87 585.73 123.23 585.73 123.23 587.67 123.6 587.67 123.6 589.6 123.9 589.6 123.9 591.6 124.2 591.6 124.2 593.6" class="cdb"/>
<path d="M124.2 593.6 150.7 593.6 150.7 601.3 218.5 601.3" class="cd"/>
<path d="M159.6 600v2.6M170.8 600v2.6M218.5 600v2.6" class="cz"/>
<path d="M316.6 487V631.3H513.3" class="ax"/>
<text x="310.3" y="626.8" class="tk" text-anchor="end" textLength="4.05" lengthAdjust="spacingAndGlyphs">0</text>
<text x="310.3" y="601.04" class="tk" text-anchor="end" textLength="8.1" lengthAdjust="spacingAndGlyphs">20</text>
<text x="310.3" y="575.28" class="tk" text-anchor="end" textLength="8.1" lengthAdjust="spacingAndGlyphs">40</text>
<text x="310.3" y="549.52" class="tk" text-anchor="end" textLength="8.1" lengthAdjust="spacingAndGlyphs">60</text>
<text x="310.3" y="523.76" class="tk" text-anchor="end" textLength="8.1" lengthAdjust="spacingAndGlyphs">80</text>
<text x="310.3" y="498" class="tk" text-anchor="end" textLength="12.15" lengthAdjust="spacingAndGlyphs">100</text>
<text x="326.2" y="643.8" class="tk" text-anchor="middle" textLength="4.05" lengthAdjust="spacingAndGlyphs">0</text>
<text x="346.73" y="643.8" class="tk" text-anchor="middle" textLength="8.1" lengthAdjust="spacingAndGlyphs">48</text>
<text x="367.26" y="643.8" class="tk" text-anchor="middle" textLength="8.1" lengthAdjust="spacingAndGlyphs">96</text>
<text x="387.79" y="643.8" class="tk" text-anchor="middle" textLength="12.15" lengthAdjust="spacingAndGlyphs">144</text>
<text x="408.32" y="643.8" class="tk" text-anchor="middle" textLength="12.15" lengthAdjust="spacingAndGlyphs">192</text>
<text x="428.85" y="643.8" class="tk" text-anchor="middle" textLength="12.15" lengthAdjust="spacingAndGlyphs">240</text>
<text x="449.38" y="643.8" class="tk" text-anchor="middle" textLength="12.15" lengthAdjust="spacingAndGlyphs">288</text>
<text x="469.91" y="643.8" class="tk" text-anchor="middle" textLength="12.15" lengthAdjust="spacingAndGlyphs">336</text>
<text x="490.44" y="643.8" class="tk" text-anchor="middle" textLength="12.15" lengthAdjust="spacingAndGlyphs">384</text>
<path d="M313.6 624.2H316.6M313.6 598.44H316.6M313.6 572.68H316.6M313.6 546.92H316.6M313.6 521.16H316.6M313.6 495.4H316.6M326.2 631.3v3M346.73 631.3v3M367.26 631.3v3M387.79 631.3v3M408.32 631.3v3M428.85 631.3v3M449.38 631.3v3M469.91 631.3v3M490.44 631.3v3" class="ax"/>
<text x="414.95" y="657.5" class="mo" text-anchor="middle" textLength="28.5" lengthAdjust="spacingAndGlyphs">months</text>
<text transform="translate(272.3 490.9) scale(0.87 1)" class="pl">F</text>
<text transform="translate(280.8 559.15) rotate(-90)" class="yt" text-anchor="middle" textLength="42.8" lengthAdjust="spacingAndGlyphs">Cumulative</text>
<text transform="translate(293.2 559.15) rotate(-90)" class="yt" text-anchor="middle" textLength="117.5" lengthAdjust="spacingAndGlyphs">survival without treatment (%)</text>
<text x="415.8" y="553.8" class="cl" textLength="58.8" lengthAdjust="spacingAndGlyphs">sIgM low-signaler</text>
<text x="383.8" y="601.3" class="cl" textLength="61.6" lengthAdjust="spacingAndGlyphs">sIgM high-signaler</text>
<rect x="288.5" y="685.6" width="185.3" height="13.7" fill="#a9a9a9"/>
<path d="M288.5 661.5H513.5M288.5 685.6H513.5M288.5 712.6H513.5" class="tl"/>
<text x="321" y="676.8" class="th" text-anchor="middle">sIgM iCa<tspan dy="-2.4" font-size="4.6" dx="0.3">2+</tspan></text>
<text x="373.4" y="671.8" class="th" text-anchor="middle">Median</text>
<text x="373.4" y="680.6" class="th" text-anchor="middle">months</text>
<text x="411.5" y="676.8" class="th" text-anchor="middle">95% CI</text>
<text x="453.1" y="676.8" class="th" text-anchor="middle">Events</text>
<text x="497.7" y="676.8" class="th" text-anchor="middle"><tspan font-style="italic">P</tspan>-value</text>
<text x="321" y="695.4" class="td" text-anchor="middle" style="font-size:7.6px">Low-signaler</text>
<text x="373.4" y="695.4" class="td" text-anchor="middle">183</text>
<text x="411.5" y="695.4" class="td" text-anchor="middle">135-192</text>
<text x="453.1" y="695.4" class="td" text-anchor="middle">10/46</text>
<text x="321" y="708.4" class="td" text-anchor="middle" style="font-size:7.6px">High-signaler</text>
<text x="373.4" y="708.4" class="td" text-anchor="middle">81</text>
<text x="411.5" y="708.4" class="td" text-anchor="middle">52-110</text>
<text x="453.1" y="708.4" class="td" text-anchor="middle">43/87</text>
<text x="497.7" y="701.6" class="td" text-anchor="middle" style="font-size:7.4px">.005</text>
<path d="M326.2 495.4 326.5 495.4 326.5 497.5 326.8 497.5 326.8 499.6 327.8 499.6 327.8 500.8 335.9 500.8 336.2 500.8 336.2 502.35 336.5 502.35 336.5 503.9 341.2 503.9 341.2 507.3 351 507.3 351.07 507.3 351.07 509.17 351.14 509.17 351.14 511.04 351.21 511.04 351.21 512.91 351.29 512.91 351.29 514.79 351.36 514.79 351.36 516.66 351.43 516.66 351.43 518.53 351.5 518.53 351.5 520.4 362.7 520.4 362.7 526.5 366.4 526.5 366.4 532.8 404.8 532.8 404.8 562.9 421.1 562.9" class="cs"/>
<path d="M369.6 531.5v2.6M373.7 531.5v2.6M378 531.5v2.6M380.8 531.5v2.6M384.2 531.5v2.6M389.4 531.5v2.6M395.2 531.5v2.6M409.6 561.6v2.6M421.1 561.6v2.6" class="cz"/>
<path d="M326.2 495.4 326.3 502.5 326.97 502.5 326.97 504.1 327.63 504.1 327.63 505.7 328.3 505.7 328.3 507.3 329 507.3 329 508.75 329.7 508.75 329.7 510.2 329.95 510.2 329.95 512.1 330.2 512.1 330.2 514 330.65 514 330.65 515.7 331.1 515.7 331.1 517.4 333.5 517.4 333.5 518.4 334.95 518.4 334.95 520.05 336.4 520.05 336.4 521.7 338.5 521.7 338.5 523.5 339.27 523.5 339.27 525.27 340.03 525.27 340.03 527.03 340.8 527.03 340.8 528.8 341.35 528.8 341.35 530.85 341.9 530.85 341.9 532.9 343.35 532.9 343.35 534.35 344.8 534.35 344.8 535.8 347.1 535.8 347.1 538.1 347.7 538.1 347.7 540.1 348.3 540.1 348.3 542.1 351.1 542.1 351.1 543.8 353.5 543.8 353.5 545.6 354.07 545.6 354.07 547.13 354.63 547.13 354.63 548.67 355.2 548.67 355.2 550.2 356.05 550.2 356.05 551.9 356.9 551.9 356.9 553.6 359.2 553.6 359.2 554.8 360.35 554.8 360.35 556.9 361.5 556.9 361.5 559 363.3 559 363.3 560.6 364.35 560.6 364.35 562.2 365.4 562.2 365.4 563.8 366.55 563.8 366.55 565.55 367.7 565.55 367.7 567.3 386.1 567.3" class="cdb2"/>
<path d="M371 566v2.6M375 566v2.6M382.5 566v2.6" class="cz"/>
<path d="M386.1 567.3 386.1 571.3 388.4 571.3 388.4 573.4 392.5 573.4 392.5 580 404.4 580 404.4 585.6 477.5 585.6 477.5 624.3" class="cd"/>
<path d="M410.4 584.3v2.6M421.6 584.3v2.6M425.1 584.3v2.6M453.6 584.3v2.6" class="cz"/>
</svg></body></html>
